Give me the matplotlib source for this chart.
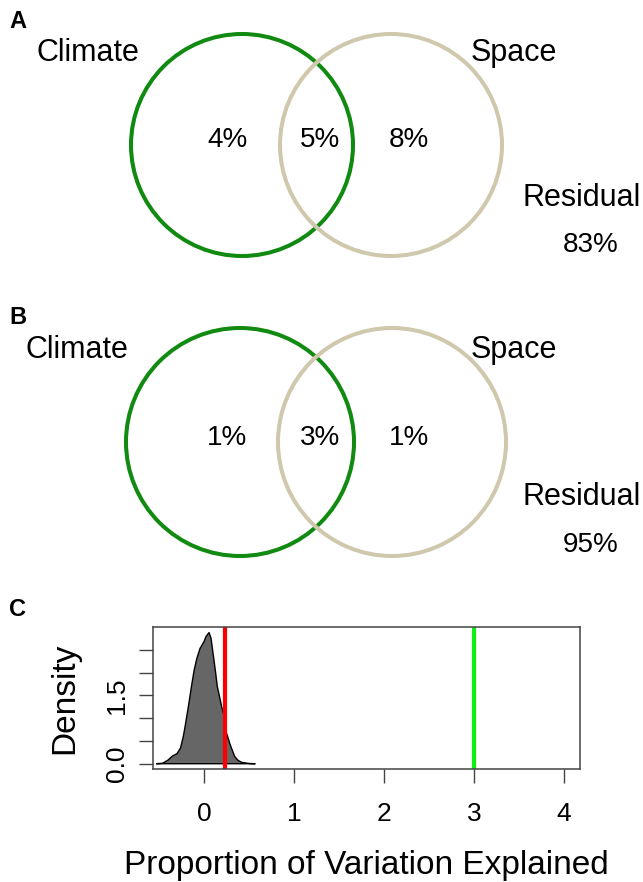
#!/usr/bin/env python3
"""
Variation partitioning: climate vs space (panels A, B) and the null
density of explained variation (panel C).

Output: out.png
"""

import matplotlib
matplotlib.use("Agg")
import matplotlib.pyplot as plt
from matplotlib.patches import Circle

plt.rcParams["font.family"] = ["Liberation Sans", "DejaVu Sans"]

# Venn data (percent of variation) --------------------------------------
panel_tags = ["A", "B"]
climate_only = [4, 1]
shared = [5, 3]
space_only = [8, 1]
residual = [83, 95]

# Panel C: density of the null distribution -----------------------------
dens_x = [-0.53, -0.46, -0.40, -0.35, -0.30, -0.26, -0.23, -0.21, -0.17,
          -0.14, -0.11, -0.08, -0.044, 0.0, 0.022, 0.056, 0.078, 0.095,
          0.11, 0.13, 0.148, 0.175, 0.196, 0.22, 0.25, 0.29, 0.34, 0.38,
          0.42, 0.50, 0.57]
dens_y = [0.0, 0.01, 0.08, 0.17, 0.22, 0.35, 0.60, 0.82, 1.30,
          1.69, 2.05, 2.31, 2.53, 2.68, 2.79, 2.88, 2.75, 2.50,
          2.28, 1.98, 1.69, 1.45, 1.25, 1.07, 0.67, 0.42, 0.16, 0.07,
          0.03, 0.005, 0.0]
observed = 0.233      # red line
reference = 3.0       # green line
x_ticks = [0, 1, 2, 3, 4]
y_ticks = [0.0, 0.5, 1.0, 1.5, 2.0, 2.5]
y_ticklabels = ["0.0", "", "", "1.5", "", ""]

W, H = 643, 882
fig = plt.figure(figsize=(W / 100, H / 100), dpi=100)


def px_axes(x0, y0, w, h):
    """Axes placed by pixel box (top-left origin), data units = pixels."""
    ax = fig.add_axes([x0 / W, 1 - (y0 + h) / H, w / W, h / H])
    ax.set_xlim(0, w)
    ax.set_ylim(h, 0)
    ax.axis("off")
    return ax


# Per-panel layout (pixels, relative to panel top) ----------------------
layout = [
    dict(top=0, r=111, cy=145, cx=(242, 391), climate_x=88, lbl_y=53,
         pct_y=140, res_y=198, resv_y=245),
    dict(top=297, r=114, cy=145, cx=(240, 392), climate_x=77, lbl_y=53,
         pct_y=141, res_y=200, resv_y=248),
]

green = "#118a11"
tan = "#cfc8ad"
fs_word = 22
fs_pct = 20

for i, tag in enumerate(panel_tags):
    L = layout[i]
    ax = px_axes(0, L["top"], W, 295)
    ax.text(18, 21, tag, fontsize=17, fontweight="bold",
            ha="center", va="center")
    ax.add_patch(Circle((L["cx"][0], L["cy"]), L["r"], fill=False,
                        ec=green, lw=2.9))
    ax.add_patch(Circle((L["cx"][1], L["cy"]), L["r"], fill=False,
                        ec=tan, lw=2.9))
    ax.text(L["climate_x"], L["lbl_y"], "Climate", fontsize=fs_word,
            ha="center", va="center")
    ax.text(514, L["lbl_y"], "Space", fontsize=fs_word,
            ha="center", va="center")
    ax.text(227, L["pct_y"], f"{climate_only[i]}%", fontsize=fs_pct,
            ha="center", va="center")
    ax.text(320, L["pct_y"], f"{shared[i]}%", fontsize=fs_pct,
            ha="center", va="center")
    ax.text(409, L["pct_y"], f"{space_only[i]}%", fontsize=fs_pct,
            ha="center", va="center")
    ax.text(582, L["res_y"], "Residual", fontsize=fs_word,
            ha="center", va="center")
    ax.text(591, L["resv_y"], f"{residual[i]}%", fontsize=fs_pct,
            ha="center", va="center")

# Panel C ---------------------------------------------------------------
fig.text(18 / W, 1 - 610 / H, "C", fontsize=17, fontweight="bold",
         ha="center", va="center")

axc = fig.add_axes([153 / W, 1 - 769 / H, 427 / W, 142 / H])
axc.fill(dens_x, dens_y, facecolor="#666666", edgecolor="black", lw=1.0)
axc.axvline(observed, color="#ff0000", lw=3.0)
axc.axvline(reference, color="#11ee11", lw=3.0)
axc.set_xlim(-0.567, 4.178)
axc.set_ylim(-0.116, 3.0)
axc.set_xticks(x_ticks)
axc.set_xticklabels([str(t) for t in x_ticks])
axc.set_yticks(y_ticks)
axc.set_yticklabels(y_ticklabels, rotation=90, va="center")
for s in axc.spines.values():
    s.set_color("#444444")
    s.set_linewidth(1.1)
axc.tick_params(axis="both", direction="out", length=10, width=1.0,
                color="#444444", labelsize=19)
axc.tick_params(axis="x", pad=14)
axc.tick_params(axis="y", pad=7)
axc.set_ylabel("Density", fontsize=24, labelpad=18)
axc.set_xlabel("Proportion of Variation Explained", fontsize=24,
               labelpad=17)

fig.savefig("out.png", dpi=100)
